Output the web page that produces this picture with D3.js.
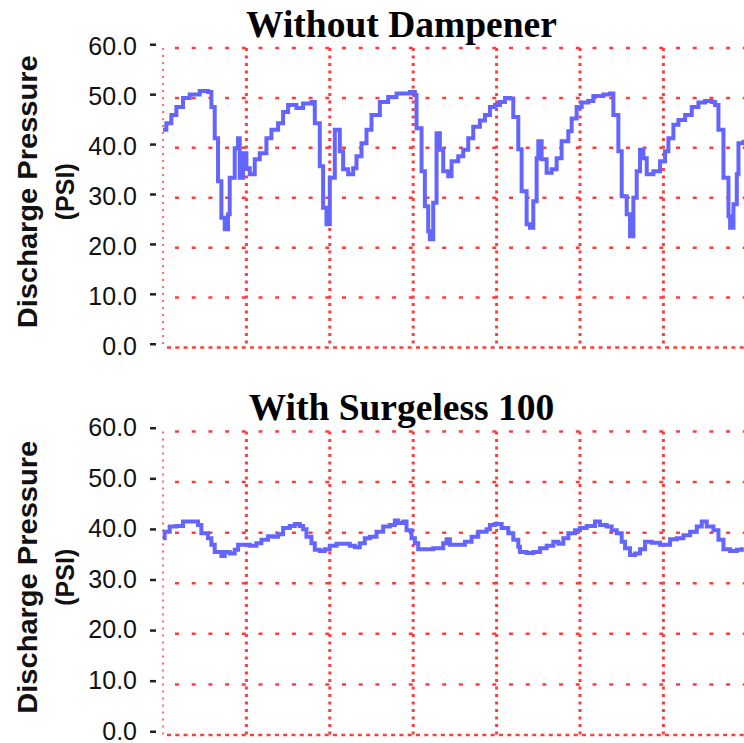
<!DOCTYPE html>
<html><head><meta charset="utf-8">
<script src="https://cdn.jsdelivr.net/npm/d3@7"></script>
<style>html,body{margin:0;padding:0;background:#fff;}svg{display:block;}</style>
</head><body>
<svg id="chart" width="744" height="743"></svg>
<script>
// ---- data ----
const titles = ["Without Dampener", "With Surgeless 100"];
const yTicks = [0, 10, 20, 30, 40, 50, 60];
const xGrid = [0, 100, 200, 300, 400, 500, 600, 700];
const yTitle = ["Discharge Pressure", "(PSI)"];

const topTime = [0,4,10,16,24,32,44,54,58,62,66,70,74,78,80,86,90,92,96,100,104,110,116,124,130,138,144,150,160,168,178,182,188,192,196,200,206,212,216,222,228,232,238,244,250,260,270,280,296,302,304,310,314,318,320,324,328,332,336,342,346,354,360,366,372,380,386,392,398,404,410,416,420,426,430,436,440,444,448,450,454,460,466,472,478,486,490,496,502,510,516,528,536,540,546,550,556,560,564,568,572,576,580,588,596,602,606,612,618,626,634,642,650,658,662,666,672,678,680,684,688,690,696];
const topPressure = [43.6,44.9,46.6,48.2,50.0,50.7,51.4,51.2,48.2,41.9,33.3,26.0,23.7,26.7,34.0,39.9,41.9,34.0,38.9,35.9,34.7,37.7,38.9,41.9,43.6,44.9,47.2,48.6,48.0,48.9,49.2,44.9,36.3,28.0,24.7,34.0,43.6,39.3,35.7,34.7,35.9,38.3,40.9,43.6,46.6,49.2,50.2,50.9,51.2,50.6,43.9,35.3,28.3,23.3,21.7,29.0,42.9,39.6,35.3,34.3,37.3,38.3,39.6,41.9,44.2,45.5,46.6,48.2,48.6,49.2,50.0,49.9,46.2,39.7,31.3,24.7,24.0,29.3,37.9,41.3,37.7,35.0,35.7,37.9,41.3,43.3,45.9,48.2,49.1,49.4,50.4,50.7,50.9,46.6,39.3,30.3,26.7,22.3,30.0,35.3,39.6,37.9,34.7,35.3,37.3,39.3,41.9,44.6,45.6,46.6,48.2,49.1,49.4,49.2,48.6,43.6,34.0,26.3,24.0,28.7,34.7,40.9,41.6];

const bottomTime = [0,2,8,16,24,38,42,46,54,58,62,70,74,80,86,90,98,104,112,118,126,132,138,144,152,158,164,168,172,178,182,188,194,200,208,216,224,230,236,242,248,256,264,272,278,282,288,292,298,302,306,316,324,332,336,340,344,356,362,370,378,388,392,398,406,414,420,426,428,436,444,452,460,468,474,480,486,494,500,508,518,524,532,538,544,550,554,560,566,572,578,586,596,604,608,616,624,632,640,646,652,660,666,672,680,688,694];
const bottomPressure = [38.9,40.2,41.2,41.3,42.2,42.2,41.5,39.9,38.9,37.6,36.2,35.4,36.2,35.9,36.6,37.6,37.6,37.4,37.9,38.6,39.3,39.2,39.7,40.9,41.3,41.7,41.3,40.7,39.2,37.9,36.6,36.4,36.7,37.4,37.8,37.8,37.4,37.1,37.9,38.9,39.2,40.2,41.2,41.5,42.4,41.9,42.2,40.5,38.9,37.9,36.7,36.7,36.9,36.9,37.9,38.7,37.6,37.6,38.2,39.2,40.2,40.7,41.5,41.7,40.9,39.9,38.6,37.2,36.2,36.0,36.2,36.9,37.4,38.2,37.8,38.9,39.9,40.5,40.9,41.3,42.2,41.5,41.2,40.5,39.9,38.2,36.9,35.6,35.9,36.7,38.2,38.0,37.6,37.6,38.7,38.9,39.5,40.2,41.2,42.2,41.2,40.5,38.6,36.7,36.4,36.6,37.1];

// ---- drawing ----
const svg = d3.select("#chart");
const red = "#ff3c3c";
const x = d3.scaleLinear().domain([0, 700]).range([163, 746.8]);

const panels = [
  {title: titles[0], time: topTime, values: topPressure, yTop: 48, yBottom: 347.5, titleY: 36.5, labelShift: -2},
  {title: titles[1], time: bottomTime, values: bottomPressure, yTop: 431.5, yBottom: 735, titleY: 420, labelShift: -4.5}
];

panels.forEach(p => {
  const y = d3.scaleLinear().domain([0, 60]).range([p.yBottom, p.yTop]);
  const g = svg.append("g");

  // horizontal grid lines
  g.selectAll("line.hgrid").data(yTicks.filter(v => v > 0)).join("line")
    .attr("class", "hgrid")
    .attr("x1", x(0) + 12).attr("x2", 744)
    .attr("y1", d => y(d)).attr("y2", d => y(d))
    .attr("stroke", red).attr("stroke-width", 2.5)
    .attr("stroke-dasharray", "4,12.7");
  // baseline (0)
  g.append("line")
    .attr("x1", x(0) + 4).attr("x2", 744)
    .attr("y1", y(0)).attr("y2", y(0))
    .attr("stroke", red).attr("stroke-width", 2.5)
    .attr("stroke-dasharray", "4,4.3");
  // vertical grid lines
  g.selectAll("line.vgrid").data(xGrid.filter(v => v > 0)).join("line")
    .attr("class", "vgrid")
    .attr("x1", d => x(d)).attr("x2", d => x(d))
    .attr("y1", y(60)).attr("y2", y(0))
    .attr("stroke", red).attr("stroke-width", 3)
    .attr("stroke-dasharray", "3,4.5");
  // left boundary
  g.append("line")
    .attr("x1", x(0)).attr("x2", x(0))
    .attr("y1", y(60)).attr("y2", y(0))
    .attr("stroke", red).attr("stroke-width", 1.5)
    .attr("stroke-dasharray", "2,5");

  // ticks and labels
  g.selectAll("rect.tick").data(yTicks).join("rect")
    .attr("class", "tick")
    .attr("x", 150).attr("y", d => y(d) - 4.5)
    .attr("width", 6).attr("height", 2.5)
    .attr("fill", "#222");
  g.selectAll("text.tl").data(yTicks).join("text")
    .attr("class", "tl")
    .attr("x", 137).attr("y", d => y(d) + p.labelShift)
    .attr("text-anchor", "end")
    .attr("dominant-baseline", "central")
    .attr("font-family", "'Liberation Sans', Arial, sans-serif")
    .attr("font-size", 25)
    .attr("fill", "#111")
    .text(d => d.toFixed(1));

  // axis title
  const cy = (p.yTop + p.yBottom) / 2;
  g.append("text")
    .attr("transform", `translate(37,${cy - 6}) rotate(-90)`)
    .attr("text-anchor", "middle")
    .attr("font-family", "'Liberation Sans', Arial, sans-serif")
    .attr("font-weight", "bold").attr("font-size", 27)
    .attr("textLength", 273).attr("lengthAdjust", "spacingAndGlyphs")
    .attr("fill", "#111")
    .text(yTitle[0]);
  g.append("text")
    .attr("transform", `translate(74,${cy - 6}) rotate(-90)`)
    .attr("text-anchor", "middle")
    .attr("font-family", "'Liberation Sans', Arial, sans-serif")
    .attr("font-weight", "bold").attr("font-size", 25)
    .attr("fill", "#111")
    .text(yTitle[1]);

  // chart title
  g.append("text")
    .attr("x", 401.5).attr("y", p.titleY)
    .attr("text-anchor", "middle")
    .attr("font-family", "'Liberation Serif', 'Times New Roman', serif")
    .attr("font-weight", "bold").attr("font-size", 37.5)
    .attr("fill", "#000")
    .text(p.title);

  // trace
  const line = d3.line()
    .x((d, i) => x(p.time[i]))
    .y(d => y(d))
    .curve(d3.curveStepAfter);
  g.append("path")
    .datum(p.values)
    .attr("d", line)
    .attr("fill", "none")
    .attr("stroke", "#6464ff")
    .attr("stroke-width", 4)
    .attr("stroke-linejoin", "miter");
});
</script>
</body></html>
